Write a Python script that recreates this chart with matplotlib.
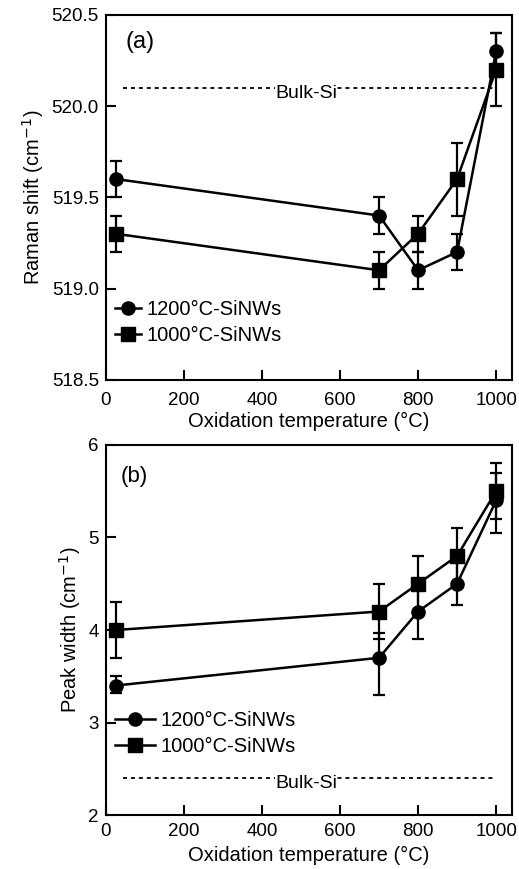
import numpy as np
import matplotlib
matplotlib.use('Agg')
import matplotlib.pyplot as plt
from matplotlib.lines import Line2D

plt.rcParams['font.family'] = ['Liberation Sans', 'DejaVu Sans']

# oxidation temperatures (first point is room temperature)
temps = [25, 700, 800, 900, 1000]

# (a) Raman shift
shift_1200 = [519.6, 519.4, 519.1, 519.2, 520.3]
shift_1200_err = [0.1, 0.1, 0.1, 0.1, 0.1]
shift_1000 = [519.3, 519.1, 519.3, 519.6, 520.2]
shift_1000_err = [0.1, 0.1, 0.1, 0.2, 0.2]
bulk_shift = 520.1

# (b) Peak width, asymmetric errors (lower, upper)
width_1200 = [3.4, 3.7, 4.2, 4.5, 5.4]
width_1200_lo = [0.08, 0.4, 0.3, 0.23, 0.35]
width_1200_hi = [0.1, 0.27, 0.3, 0.23, 0.3]
width_1000 = [4.0, 4.2, 4.5, 4.8, 5.5]
width_1000_lo = [0.3, 0.3, 0.3, 0.3, 0.3]
width_1000_hi = [0.3, 0.3, 0.3, 0.3, 0.3]
bulk_width = 2.4

fig = plt.figure(figsize=(5.19, 8.69), dpi=100)
ax1 = fig.add_axes([0.204, 0.563, 0.782, 0.420])
ax2 = fig.add_axes([0.204, 0.062, 0.782, 0.426])

style = dict(color='black', lw=1.8, elinewidth=1.6, capsize=4.5, capthick=1.6)


def panel(ax, y1, e1, y2, e2, bulk, label, ylabel, ylim, yticks, yfmt,
          leg_pos, hlen, letter_pos, letter_size, xpad, xlabpad):
    ax.errorbar(temps, y1, yerr=e1, marker='o', ms=9.5, **style)
    ax.errorbar(temps, y2, yerr=e2, marker='s', ms=9.5, **style)
    ax.plot([45, 1000], [bulk, bulk], color='black', lw=1.3, ls=(0, (2.2, 2.2)))
    ax.annotate('Bulk-Si', (513, bulk), xytext=(0, -4), textcoords='offset points',
                ha='center', va='center', fontsize=14,
                bbox=dict(facecolor='white', edgecolor='none', pad=0.3))
    ax.set_xlim(0, 1040)
    ax.set_ylim(*ylim)
    ax.set_xticks([0, 200, 400, 600, 800, 1000])
    ax.set_yticks(yticks)
    ax.set_yticklabels([yfmt.format(v) for v in yticks])
    ax.tick_params(direction='in', length=7, width=1.5, labelsize=13.5, pad=5)
    ax.tick_params(axis='x', pad=xpad)
    for s in ax.spines.values():
        s.set_linewidth(1.5)
    ax.set_xlabel('Oxidation temperature (°C)', fontsize=14.5, labelpad=xlabpad)
    ax.set_ylabel(ylabel, fontsize=14.5)
    ax.text(letter_pos[0], letter_pos[1], label, transform=ax.transAxes, fontsize=letter_size,
            ha='center', va='center')
    handles = [Line2D([], [], color='black', lw=1.8, marker='o', ms=9.5),
               Line2D([], [], color='black', lw=1.8, marker='s', ms=9.5)]
    ax.legend(handles, ['1200°C-SiNWs', '1000°C-SiNWs'], loc='lower left',
              bbox_to_anchor=leg_pos, frameon=False, fontsize=14.5,
              handlelength=hlen, handletextpad=0.25, labelspacing=0.35,
              borderaxespad=0, borderpad=0)


panel(ax1, shift_1200, shift_1200_err, shift_1000, shift_1000_err, bulk_shift, '(a)',
      'Raman shift (cm$^{-1}$)', (518.5, 520.5), [518.5, 519.0, 519.5, 520.0, 520.5], '{:.1f}',
      (0.022, 0.094), 1.3, (0.085, 0.925), 17, 9, 2)

panel(ax2, width_1200, [width_1200_lo, width_1200_hi], width_1000, [width_1000_lo, width_1000_hi],
      bulk_width, '(b)', 'Peak width (cm$^{-1}$)', (2, 6), [2, 3, 4, 5, 6], '{:.0f}',
      (0.022, 0.16), 2.0, (0.07, 0.915), 16, 6, 4)

fig.savefig('out.png', dpi=100)
